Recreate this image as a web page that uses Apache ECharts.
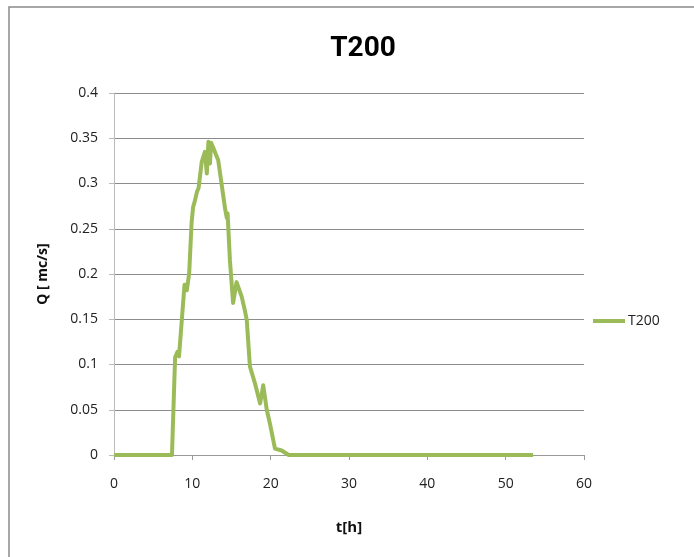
<!DOCTYPE html>
<html>
<head>
<meta charset="utf-8">
<script src="https://cdn.jsdelivr.net/npm/echarts@6/dist/echarts.min.js"></script>
<style>
  html, body { margin: 0; padding: 0; background: #fff; }
  #chart { width: 694px; height: 557px; }
</style>
</head>
<body>
<div id="chart"></div>
<script>
// Hydrograph T200: discharge Q [mc/s] against time t [h]
var timeH = [0, 7.4, 7.8, 8.1, 8.3, 9.0, 9.3, 9.6, 9.9, 10.1, 10.3, 10.6, 10.8, 11.2, 11.6, 11.85,
             12.05, 12.25, 12.4, 12.7, 13.1, 13.3, 14.2, 14.4, 14.5, 14.8, 15.2, 15.65, 16.3, 16.7,
             16.95, 17.35, 18.0, 18.65, 19.05, 19.5, 19.9, 20.55, 21.4, 22.3, 53.5];
var discharge = [0, 0, 0.108, 0.114, 0.109, 0.188, 0.182, 0.201, 0.256, 0.274, 0.28, 0.291, 0.295,
                 0.324, 0.335, 0.311, 0.346, 0.322, 0.345, 0.339, 0.33, 0.326, 0.271, 0.262, 0.267,
                 0.215, 0.168, 0.191, 0.175, 0.16, 0.149, 0.098, 0.079, 0.057, 0.077, 0.05, 0.035,
                 0.007, 0.005, 0, 0];
var seriesName = 'T200';
var xTicks = [0, 10, 20, 30, 40, 50, 60];
var yTicks = [0, 0.05, 0.1, 0.15, 0.2, 0.25, 0.3, 0.35, 0.4];

var font = "'Open Sans', 'Noto Sans', sans-serif";
var points = timeH.map(function (t, i) { return [t, discharge[i]]; });

var chart = echarts.init(document.getElementById('chart'), null, { renderer: 'canvas' });
chart.setOption({
  backgroundColor: '#fff',
  animation: false,
  graphic: [{
    type: 'rect',
    shape: { x: 9, y: 7, width: 700, height: 560 },
    style: { fill: 'none', stroke: '#8a8a8a', lineWidth: 1.5 },
    silent: true
  }],
  title: {
    text: seriesName,
    left: 358, top: 30, textAlign: 'center',
    textStyle: { fontFamily: "Roboto, 'Open Sans', sans-serif", fontSize: 28, fontWeight: 'bold', color: '#000' }
  },
  legend: {
    data: [seriesName],
    left: 588, top: 309,
    itemWidth: 32, itemHeight: 4, itemGap: 2,
    icon: 'rect',
    textStyle: { fontFamily: font, fontSize: 14, color: '#222', padding: [0, 0, 0, -2] }
  },
  grid: { left: 114, right: 110, top: 93, bottom: 102, containLabel: false },
  xAxis: {
    type: 'value', min: xTicks[0], max: xTicks[xTicks.length - 1], interval: 10,
    name: 't[h]', nameLocation: 'middle', nameGap: 65,
    nameTextStyle: { fontFamily: font, fontSize: 15, fontWeight: 'bold', color: '#111' },
    axisLine: { show: true, lineStyle: { color: '#999', width: 1 } },
    axisTick: { show: true, length: 5, lineStyle: { color: '#999' } },
    axisLabel: { fontFamily: font, fontSize: 14, color: '#222', margin: 22 },
    splitLine: { show: false }
  },
  yAxis: {
    type: 'value', min: yTicks[0], max: yTicks[yTicks.length - 1], interval: 0.05,
    name: 'Q [ mc/s]', nameLocation: 'middle', nameGap: 64, nameRotate: 90,
    nameTextStyle: { fontFamily: font, fontSize: 14, fontWeight: 'bold', color: '#111' },
    axisLine: { show: true, lineStyle: { color: '#bbb', width: 1 } },
    axisTick: { show: true, length: 5, lineStyle: { color: '#bbb' } },
    axisLabel: { fontFamily: font, fontSize: 14, color: '#222', margin: 16,
      formatter: function (v) { return String(+v.toFixed(2)); } },
    splitLine: { show: true, lineStyle: { color: '#8c8c8c', width: 1 } }
  },
  series: [{
    name: seriesName,
    type: 'line',
    data: points,
    showSymbol: false,
    symbol: 'none',
    lineStyle: { color: '#9bbb59', width: 4, join: 'round' },
    itemStyle: { color: '#9bbb59' }
  }]
});
</script>
</body>
</html>
